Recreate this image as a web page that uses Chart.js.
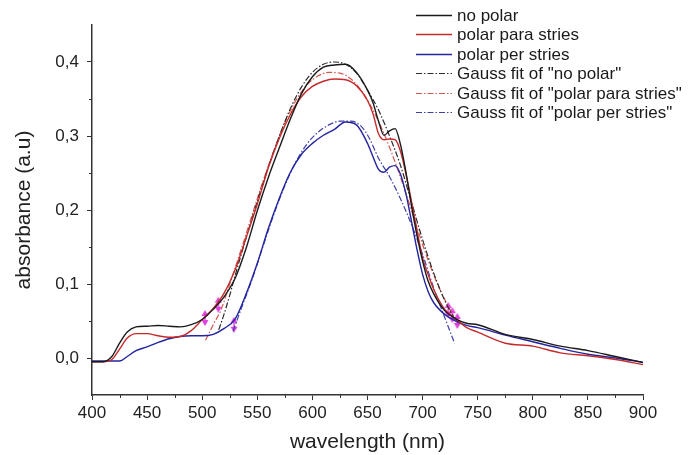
<!DOCTYPE html>
<html>
<head>
<meta charset="utf-8">
<script src="https://cdn.jsdelivr.net/npm/chart.js@4.4.1/dist/chart.umd.min.js"></script>
<style>
  html, body { margin: 0; padding: 0; background: #fff; }
  #absChart { display: block; }
</style>
</head>
<body>
<canvas id="absChart" width="689" height="455"></canvas>
<script>
// measured spectra share one wavelength grid
const wavelengths = [400, 410, 418, 425, 432, 440, 450, 460, 470, 480, 490, 500, 510, 520, 530, 540, 550, 560, 570, 580, 590, 600, 610, 620, 630, 640, 650, 655, 660, 665, 670, 675, 680, 685, 690, 695, 700, 705, 710, 720, 730, 740, 750, 775, 800, 825, 850, 875, 900];
const noPolar = [-0.005, -0.005, 0.002, 0.02, 0.035, 0.042, 0.043, 0.044, 0.043, 0.042, 0.045, 0.052, 0.066, 0.083, 0.108, 0.149, 0.199, 0.244, 0.284, 0.323, 0.357, 0.38, 0.393, 0.396, 0.397, 0.386, 0.362, 0.345, 0.32, 0.301, 0.307, 0.31, 0.288, 0.25, 0.205, 0.165, 0.131, 0.104, 0.087, 0.064, 0.053, 0.047, 0.045, 0.032, 0.025, 0.016, 0.01, 0.002, -0.006];
const polarPara = [-0.005, -0.005, -0.002, 0.012, 0.027, 0.033, 0.033, 0.03, 0.028, 0.029, 0.037, 0.052, 0.067, 0.088, 0.12, 0.163, 0.208, 0.257, 0.297, 0.329, 0.353, 0.367, 0.374, 0.377, 0.376, 0.368, 0.348, 0.33, 0.303, 0.295, 0.296, 0.295, 0.279, 0.248, 0.211, 0.172, 0.135, 0.113, 0.093, 0.066, 0.053, 0.041, 0.035, 0.02, 0.016, 0.007, 0.003, -0.002, -0.009];
const polarPer = [-0.004, -0.004, -0.004, -0.004, 0.002, 0.01, 0.015, 0.021, 0.026, 0.029, 0.03, 0.03, 0.032, 0.04, 0.053, 0.087, 0.128, 0.175, 0.216, 0.251, 0.275, 0.29, 0.301, 0.309, 0.319, 0.315, 0.29, 0.272, 0.255, 0.251, 0.258, 0.26, 0.248, 0.221, 0.184, 0.146, 0.113, 0.09, 0.075, 0.059, 0.05, 0.044, 0.041, 0.031, 0.022, 0.013, 0.005, 0.0, -0.006];

// gauss fits, only over the fit range
const fitNoPolarNm = [515, 520, 525, 530, 540, 550, 560, 570, 580, 590, 600, 610, 620, 630, 640, 650, 660, 670, 680, 690, 700, 710, 720, 730];
const fitNoPolar = [0.038, 0.06, 0.085, 0.112, 0.163, 0.212, 0.258, 0.3, 0.337, 0.366, 0.386, 0.397, 0.4, 0.397, 0.385, 0.362, 0.335, 0.3, 0.26, 0.21, 0.16, 0.115, 0.078, 0.05];
const fitParaNm = [503, 510, 517, 525, 535, 545, 555, 565, 575, 585, 595, 605, 615, 625, 635, 645, 655, 665, 675, 685, 695, 705, 715, 725, 733];
const fitPara = [0.024, 0.045, 0.065, 0.1, 0.145, 0.192, 0.238, 0.28, 0.318, 0.348, 0.369, 0.381, 0.386, 0.385, 0.377, 0.36, 0.335, 0.303, 0.265, 0.222, 0.176, 0.132, 0.095, 0.065, 0.045];
const fitPerNm = [528, 535, 545, 555, 565, 575, 585, 595, 605, 615, 625, 635, 645, 652, 660, 670, 680, 690, 700, 710, 720, 729];
const fitPer = [0.036, 0.065, 0.105, 0.15, 0.194, 0.233, 0.265, 0.289, 0.305, 0.315, 0.32, 0.32, 0.312, 0.296, 0.27, 0.245, 0.215, 0.18, 0.14, 0.095, 0.055, 0.02];

// fit range markers
const markerNm = [502.5, 514.6, 528.9, 723.3, 727, 731.5];
const markerAbs = [0.054, 0.072, 0.045, 0.065, 0.058, 0.05];

const xTicks = [400, 450, 500, 550, 600, 650, 700, 750, 800, 850, 900];
const xMinor = [425, 475, 525, 575, 625, 675, 725, 775, 825, 875];
const yTicks = [0, 0.1, 0.2, 0.3, 0.4];
const yMinor = [0.05, 0.15, 0.25, 0.35];

const FONT = "'Liberation Sans', Arial, sans-serif";
const AXIS = '#333333';

function pts(xs, ys) {
    return xs.map(function (x, i) { return { x: x, y: ys[i] }; });
}

// little magenta double arrow for the fit range markers
const markerIcon = (function () {
    var c = document.createElement('canvas');
    c.width = 8; c.height = 16;
    var g = c.getContext('2d');
    g.fillStyle = '#e040e0';
    g.strokeStyle = '#e040e0';
    g.lineWidth = 1.5;
    g.beginPath(); g.moveTo(4, 3); g.lineTo(4, 13); g.stroke();
    g.beginPath(); g.moveTo(0.5, 6); g.lineTo(4, 0); g.lineTo(7.5, 6); g.closePath(); g.fill();
    g.beginPath(); g.moveTo(0.5, 10); g.lineTo(4, 16); g.lineTo(7.5, 10); g.closePath(); g.fill();
    return c;
})();

function series(label, xs, ys, color, dash) {
    return {
        label: label,
        data: pts(xs, ys),
        borderColor: color,
        backgroundColor: color,
        borderWidth: dash ? 1.2 : 1.4,
        borderDash: dash || [],
        pointRadius: 0,
        tension: 0.3,
        cubicInterpolationMode: 'monotone',
        showInLegend: true
    };
}

const dashDot = [6, 2, 1.5, 2];

const minorTicks = {
    id: 'minorTicks',
    afterDraw: function (chart) {
        var ctx = chart.ctx, x = chart.scales.x, y = chart.scales.y;
        ctx.save();
        ctx.strokeStyle = AXIS;
        ctx.lineWidth = 1;
        ctx.beginPath();
        xMinor.forEach(function (v) {
            var px = Math.round(x.getPixelForValue(v)) + 0.5;
            ctx.moveTo(px, x.top);
            ctx.lineTo(px, x.top + 3);
        });
        yMinor.forEach(function (v) {
            var py = Math.round(y.getPixelForValue(v)) + 0.5;
            ctx.moveTo(y.right, py);
            ctx.lineTo(y.right - 3, py);
        });
        ctx.stroke();
        ctx.restore();
    }
};

const sideLegend = {
    id: 'sideLegend',
    afterDraw: function (chart) {
        var ctx = chart.ctx;
        var x0 = 416, x1 = 452, tx = 457, top = 15, step = 19.4;
        ctx.save();
        ctx.font = '17px ' + FONT;
        ctx.textBaseline = 'middle';
        var row = 0;
        chart.data.datasets.forEach(function (ds) {
            if (!ds.showInLegend) return;
            var yy = Math.round(top + row * step) + 0.5;
            ctx.strokeStyle = ds.borderColor;
            ctx.lineWidth = ds.borderDash.length ? 1.2 : 1.6;
            ctx.setLineDash(ds.borderDash);
            ctx.beginPath();
            ctx.moveTo(x0, yy);
            ctx.lineTo(x1, yy);
            ctx.stroke();
            ctx.setLineDash([]);
            ctx.fillStyle = '#1a1a1a';
            ctx.fillText(ds.label, tx, yy + 1);
            row++;
        });
        ctx.restore();
    }
};

new Chart(document.getElementById('absChart'), {
    type: 'line',
    data: {
        datasets: [
            series('no polar', wavelengths, noPolar, '#1a1a1a'),
            series('polar para stries', wavelengths, polarPara, '#c62b2b'),
            series('polar per stries', wavelengths, polarPer, '#2424a0'),
            series('Gauss fit of "no polar"', fitNoPolarNm, fitNoPolar, '#2a2a2a', dashDot),
            series('Gauss fit of "polar para stries"', fitParaNm, fitPara, '#d4574f', dashDot),
            series('Gauss fit of "polar per stries"', fitPerNm, fitPer, '#4040a8', dashDot),
            {
                type: 'scatter',
                data: pts(markerNm, markerAbs),
                pointStyle: markerIcon,
                pointRadius: 6,
                showLine: false
            }
        ]
    },
    options: {
        responsive: false,
        animation: false,
        events: [],
        layout: { padding: { top: 25, right: 46, left: 0, bottom: 0 } },
        plugins: {
            legend: { display: false },
            tooltip: { enabled: false }
        },
        scales: {
            x: {
                type: 'linear',
                min: 400,
                max: 900,
                afterBuildTicks: function (scale) {
                    scale.ticks = xTicks.map(function (v) { return { value: v }; });
                },
                afterFit: function (scale) { scale.height = 60; },
                border: { display: true, color: AXIS, width: 1.5 },
                grid: { drawOnChartArea: false, drawTicks: true, tickLength: 5, tickColor: AXIS, tickWidth: 1 },
                ticks: {
                    color: '#222',
                    font: { family: FONT, size: 17 },
                    padding: 3,
                    maxRotation: 0,
                    autoSkip: false
                },
                title: {
                    display: true,
                    text: 'wavelength (nm)',
                    color: '#222',
                    font: { family: FONT, size: 21 },
                    padding: { top: 0, bottom: 0 }
                }
            },
            y: {
                type: 'linear',
                min: -0.05,
                max: 0.45,
                afterBuildTicks: function (scale) {
                    scale.ticks = yTicks.map(function (v) { return { value: v }; });
                },
                afterFit: function (scale) { scale.width = 92; },
                border: { display: true, color: AXIS, width: 1.5 },
                grid: { drawOnChartArea: false, drawTicks: true, tickLength: 5, tickColor: AXIS, tickWidth: 1 },
                ticks: {
                    color: '#222',
                    font: { family: FONT, size: 17 },
                    padding: 8,
                    callback: function (v) { return v.toFixed(1).replace('.', ','); }
                },
                title: {
                    display: true,
                    text: 'absorbance (a.u)',
                    color: '#222',
                    font: { family: FONT, size: 21 },
                    padding: { top: 12, bottom: 0 }
                }
            }
        }
    },
    plugins: [minorTicks, sideLegend]
});
</script>
</body>
</html>
